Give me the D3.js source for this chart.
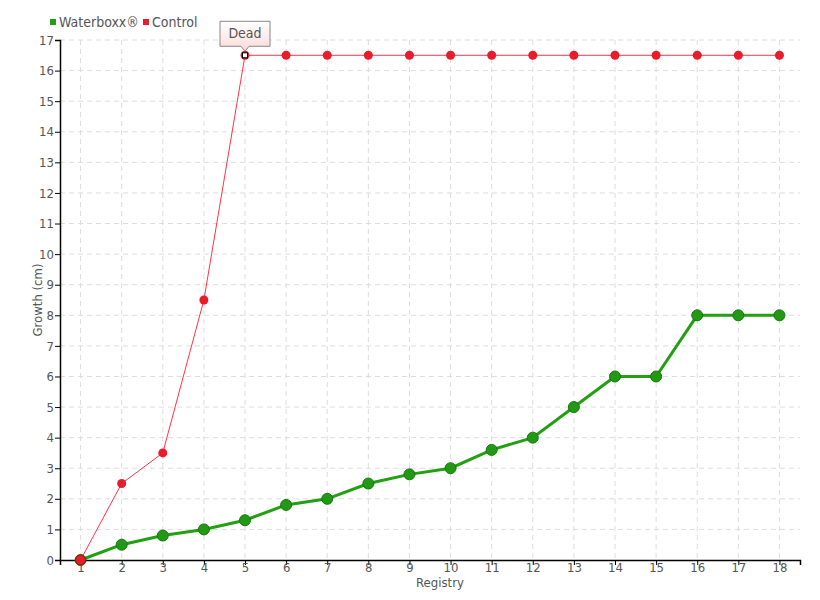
<!DOCTYPE html>
<html>
<head>
<meta charset="utf-8">
<script src="https://cdn.jsdelivr.net/npm/d3@7"></script>
<style>
  body { margin: 0; background: #fff; }
  svg text { font-family: "DejaVu Sans Condensed", "Liberation Sans Narrow", sans-serif; fill: #555; }
  .grid line { stroke: #ddd; stroke-dasharray: 5,4; }
</style>
</head>
<body>
<svg id="chart" width="820" height="600"></svg>
<script>
const registry = [1, 2, 3, 4, 5, 6, 7, 8, 9, 10, 11, 12, 13, 14, 15, 16, 17, 18];
const waterboxx = [0, 0.5, 0.8, 1, 1.3, 1.8, 2, 2.5, 2.8, 3, 3.6, 4, 5, 6, 6, 8, 8, 8];
const control = [0, 2.5, 3.5, 8.5, 16.5, 16.5, 16.5, 16.5, 16.5, 16.5, 16.5, 16.5, 16.5, 16.5, 16.5, 16.5, 16.5, 16.5];
const yTicks = d3.range(0, 18);
const deadIndex = 4;

const svg = d3.select('#chart');
const margin = { top: 40, right: 20, bottom: 40, left: 60 };
const width = 820 - margin.left - margin.right;
const height = 600 - margin.top - margin.bottom;

const g = svg.append('g').attr('transform', `translate(${margin.left},${margin.top})`);

const x = d3.scaleLinear().domain([0.5, 18.5]).range([0, width]);
const y = d3.scaleLinear().domain([0, 17]).range([height, 0]);

// grid
g.append('g').attr('class', 'grid')
  .selectAll('line').data(yTicks.slice(1)).enter().append('line')
  .attr('x1', 0).attr('x2', width)
  .attr('y1', d => y(d)).attr('y2', d => y(d));
g.append('g').attr('class', 'grid')
  .selectAll('line').data(registry).enter().append('line')
  .attr('x1', d => x(d)).attr('x2', d => x(d))
  .attr('y1', 0).attr('y2', height);

// axes
const xAxis = g.append('g')
  .attr('transform', `translate(0,${height})`)
  .call(d3.axisBottom(x).tickValues(registry).tickSize(5).tickFormat(d3.format('d')));
const yAxis = g.append('g')
  .call(d3.axisLeft(y).tickValues(yTicks).tickSize(5).tickFormat(d3.format('d')));
[xAxis, yAxis].forEach(a => {
  a.select('.domain').attr('stroke', '#000').attr('stroke-width', 1.5);
  a.selectAll('.tick line').attr('stroke', '#000');
  a.selectAll('text').style('font-size', '13px').attr('fill', '#555');
});
xAxis.selectAll('text').attr('dy', '0.8em').attr('y', 2);
yAxis.selectAll('text').attr('x', -6);

// axis titles
g.append('text')
  .attr('x', width / 2 + 10).attr('y', height + 27)
  .attr('text-anchor', 'middle')
  .style('font-size', '13px')
  .text('Registry');
g.append('text')
  .attr('transform', 'rotate(-90)')
  .attr('x', -height / 2 + 0).attr('y', -18)
  .attr('text-anchor', 'middle')
  .style('font-size', '13px')
  .text('Growth (cm)');

// lines
const line = d3.line().x((d, i) => x(registry[i])).y(d => y(d));

g.append('path').datum(waterboxx)
  .attr('fill', 'none').attr('stroke', '#22a012').attr('stroke-width', 3)
  .attr('d', line);
g.append('path').datum(control)
  .attr('fill', 'none').attr('stroke', '#ff3347').attr('stroke-width', 1)
  .attr('d', line);

g.selectAll('.dot-w').data(waterboxx).enter().append('circle')
  .attr('class', 'dot-w')
  .attr('cx', (d, i) => x(registry[i])).attr('cy', d => y(d))
  .attr('r', 5.5)
  .attr('fill', '#229915').attr('stroke', '#17770c').attr('stroke-width', 1);

g.selectAll('.dot-c').data(control).enter().append('circle')
  .attr('class', 'dot-c')
  .attr('cx', (d, i) => x(registry[i])).attr('cy', d => y(d))
  .attr('r', d => (d === 0 ? 5 : 4.5))
  .attr('fill', '#e81c2a').attr('stroke', d => (d === 0 ? '#a01010' : 'none'));

// dead marker
const dx = x(registry[deadIndex]);
const dy = y(control[deadIndex]);
g.append('rect')
  .attr('x', dx - 2.5).attr('y', dy - 2.5).attr('width', 5).attr('height', 5)
  .attr('fill', '#fff').attr('stroke', '#000').attr('stroke-width', 1);

// tooltip
const defs = svg.append('defs');
const grad = defs.append('linearGradient').attr('id', 'tip').attr('x1', 0).attr('x2', 0).attr('y1', 0).attr('y2', 1);
grad.append('stop').attr('offset', '0%').attr('stop-color', '#ffffff');
grad.append('stop').attr('offset', '100%').attr('stop-color', '#fbd9d9');

const tw = 50, th = 25;
const tx = dx - tw / 2, ty = dy - 9 - th;
g.append('path')
  .attr('d', `M${tx},${ty} h${tw} v${th} h${-(tw / 2 - 4)} l-4,5 l-4,-5 h${-(tw / 2 - 4)} z`)
  .attr('fill', 'url(#tip)').attr('stroke', '#888').attr('stroke-width', 1);
g.append('text')
  .attr('x', dx).attr('y', ty + 17)
  .attr('text-anchor', 'middle')
  .style('font-size', '14px')
  .attr('fill', '#444')
  .text('Dead');

// legend
const legend = svg.append('g').attr('transform', 'translate(50,22)');
const items = [{ name: 'Waterboxx®', color: '#22a012' }, { name: 'Control', color: '#e81c2a' }];
items.forEach((it, i) => {
  const li = legend.append('g').attr('transform', `translate(${i === 0 ? 0 : 93},0)`);
  li.append('rect').attr('x', 0).attr('y', -3).attr('width', 6).attr('height', 6).attr('fill', it.color);
  li.append('text').attr('x', 9).attr('y', 5).style('font-size', '14px').attr('fill', '#555').text(it.name);
});
</script>
</body>
</html>
